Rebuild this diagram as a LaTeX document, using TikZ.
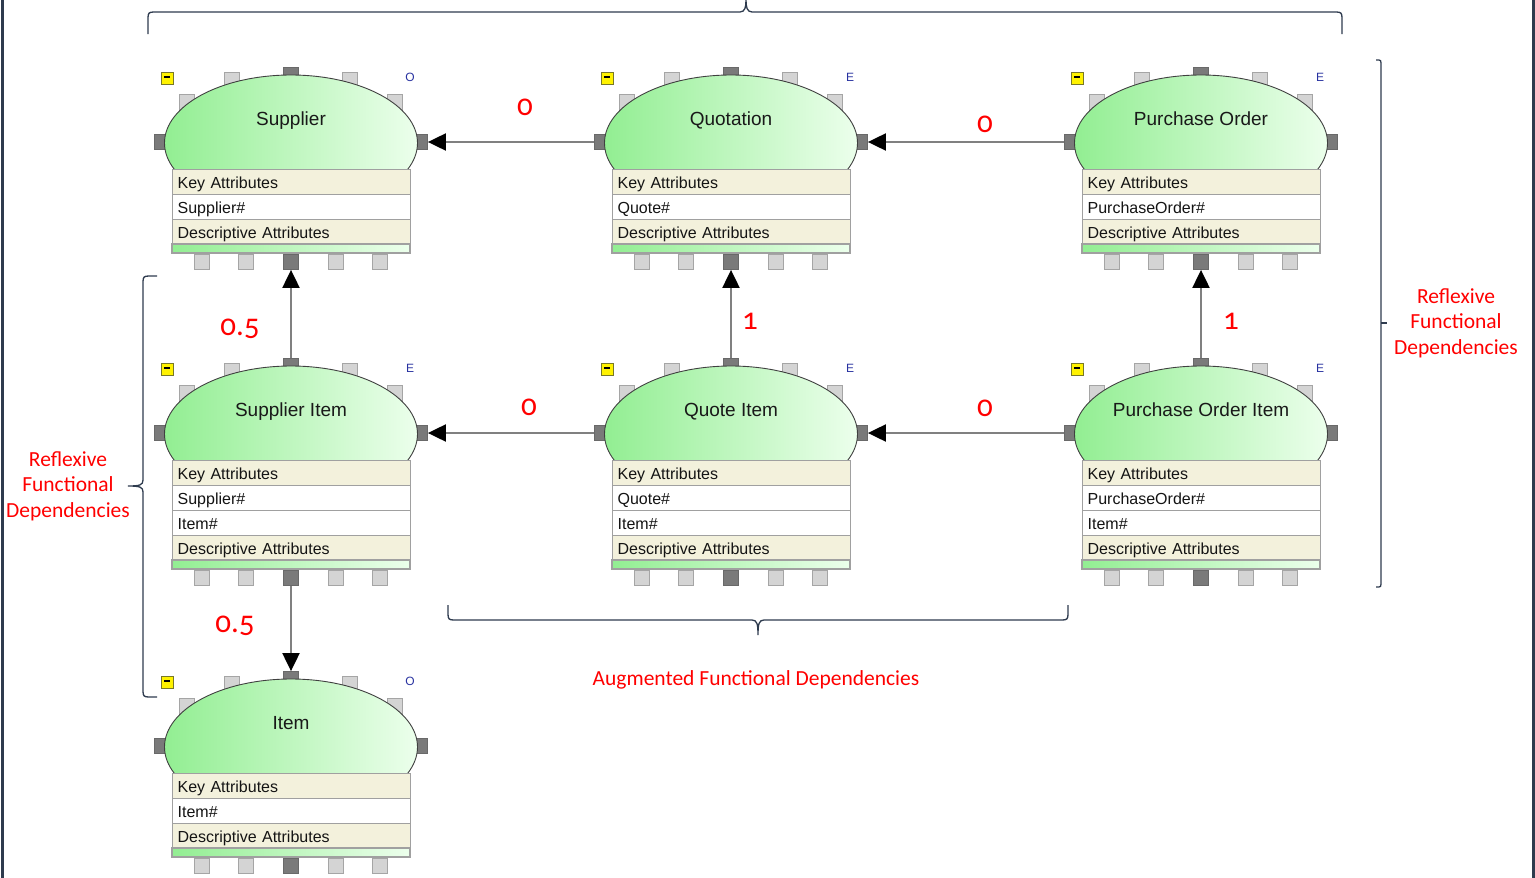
\documentclass[tikz,border=0pt]{standalone}
\usepackage{fontspec}
\setmainfont{Liberation Sans}
\newfontfamily\calib{Carlito}
\newfontfamily\calibos[Numbers=OldStyle]{Carlito}
\usetikzlibrary{arrows.meta}
\definecolor{portfill}{RGB}{212,212,212}
\definecolor{portbord}{RGB}{165,165,165}
\definecolor{portdark}{RGB}{122,122,122}
\definecolor{portdarkb}{RGB}{105,105,105}
\definecolor{domeA}{RGB}{146,238,146}
\definecolor{domeB}{RGB}{236,255,236}
\definecolor{beige}{RGB}{243,241,220}
\definecolor{rowline}{RGB}{160,160,160}
\definecolor{connc}{RGB}{128,128,128}
\definecolor{brkc}{RGB}{46,59,78}
\definecolor{letc}{RGB}{40,50,160}
\definecolor{iconb}{RGB}{120,120,40}
\definecolor{annred}{RGB}{255,0,0}
\tikzset{
  lport/.style={draw=portbord, fill=portfill, minimum width=15pt, minimum height=15pt, inner sep=0pt, line width=0.8pt},
  dport/.style={lport, draw=portdarkb, fill=portdark},
  dome/.style={draw=black!75, line width=0.9pt, left color=domeA, right color=domeB},
  titletxt/.style={font=\fontsize{19}{22}\selectfont, text=black!90, anchor=base, inner sep=0pt},
  rowbase/.style={draw=rowline, line width=1.3pt, anchor=north west, minimum width=238pt, minimum height=25pt, text width=228pt, align=left, inner xsep=5pt, inner ysep=0pt, text height=12pt, text depth=0pt, font=\fontsize{16}{18}\selectfont, text=black!92},
  keyrow/.style={rowbase, fill=beige},
  valrow/.style={rowbase, fill=white},
  greenbar/.style={draw=rowline, line width=1.3pt, left color=domeA, right color=domeB},
  letr/.style={font=\fontsize{12}{14}\selectfont, text=letc, inner sep=0pt},
  yicon/.style={draw=iconb, fill=yellow, line width=0.9pt, minimum width=12pt, minimum height=12pt, inner sep=0pt},
  conn/.style={draw=connc, line width=2pt, -{Triangle[length=18pt,width=17pt,color=black]}},
  brk/.style={draw=brkc, line width=1.3pt},
  num/.style={font=\calibos\fontsize{31}{34}\selectfont, text=annred, anchor=base, inner sep=0pt},
  ann/.style={font=\calib\fontsize{21.5}{25.5}\selectfont, text=annred, align=center, inner sep=0pt}
}
% #1 id, #2 cx, #3 title y, #4 title, #5 letter, #6 value rows, #7 count
\newcommand{\ERent}[7]{%
  \pgfmathsetmacro{\ERbt}{#3+51+25*(#7+2)}%
  \node[lport] (#1-tl) at ({#2-59},{#3-38}) {};
  \node[lport] (#1-tr) at ({#2+59},{#3-38}) {};
  \node[lport] (#1-sl) at ({#2-104},{#3-16}) {};
  \node[lport] (#1-sr) at ({#2+104},{#3-16}) {};
  \node[dport] (#1-t) at (#2,{#3-43}) {};
  \node[dport] (#1-l) at ({#2-129},{#3+24}) {};
  \node[dport] (#1-r) at ({#2+129},{#3+24}) {};
  \path[dome] (#2,{#3+25}) ellipse [x radius=126.5pt, y radius=68pt];
  \node[titletxt] (#1-name) at (#2,{#3+7}) {#4};
  \node[yicon] (#1-ic) at ({#2-124},{#3-40}) {\rule[2pt]{6pt}{1.3pt}};
  \node[letr] (#1-let) at ({#2+119},{#3-41}) {#5};
  \node[keyrow] (#1-key) at ({#2-119},{#3+51}) {Key Attributes};
  \foreach \v [count=\i] in {#6} {
    \node[valrow] (#1-v\i) at ({#2-119},{#3+51+25*\i}) {\v};
  }
  \node[keyrow] (#1-desc) at ({#2-119},{#3+51+25*(#7+1)}) {Descriptive Attributes};
  \path[greenbar] ({#2-119},\ERbt) rectangle ({#2+119},{\ERbt+9});
  \node[lport] (#1-b1) at ({#2-89},{\ERbt+18}) {};
  \node[lport] (#1-b2) at ({#2-45},{\ERbt+18}) {};
  \node[dport] (#1-b) at (#2,{\ERbt+18}) {};
  \node[lport] (#1-b4) at ({#2+45},{\ERbt+18}) {};
  \node[lport] (#1-b5) at ({#2+89},{\ERbt+18}) {};
}
\begin{document}
\begin{tikzpicture}[x=1pt,y=-1pt]
\useasboundingbox (0,0) rectangle (1535,878);
% window frame
\draw[brkc, line width=3pt] (2,0) -- (2,878);
\draw[brkc, line width=3pt] (1533,0) -- (1533,878);

\ERent{sup}{291}{118}{Supplier}{O}{Supplier\#}{1}
\ERent{quo}{731}{118}{Quotation}{E}{Quote\#}{1}
\ERent{po}{1201}{118}{Purchase Order}{E}{PurchaseOrder\#}{1}
\ERent{sui}{291}{409}{Supplier Item}{E}{Supplier\#,Item\#}{2}
\ERent{qui}{731}{409}{Quote Item}{E}{Quote\#,Item\#}{2}
\ERent{poi}{1201}{409}{Purchase Order Item}{E}{PurchaseOrder\#,Item\#}{2}
\ERent{itm}{291}{722}{Item}{O}{Item\#}{1}

% connectors
\draw[conn] (quo-l.west) -- (sup-r.east);
\draw[conn] (po-l.west) -- (quo-r.east);
\draw[conn] (qui-l.west) -- (sui-r.east);
\draw[conn] (poi-l.west) -- (qui-r.east);
\draw[conn] (sui-t.north) -- (sup-b.south);
\draw[conn] (qui-t.north) -- (quo-b.south);
\draw[conn] (poi-t.north) -- (po-b.south);
\draw[conn] (sui-b.south) -- (itm-t.north);

% numbers
\node[num] (n1) at (525,115) {0};
\node[num] (n2) at (985,132) {0};
\node[num] (n3) at (529,415) {0};
\node[num] (n4) at (985,416) {0};
\node[num] (n5) at (240,335) {0.5};
\node[num] (n6) at (235,632) {0.5};
\node[num] (n7) at (750,329) {1};
\node[num] (n8) at (1231,329) {1};

% brackets
\draw[brk] (148,34) -- (148,18) .. controls (148,13) and (149,12) .. (154,12) -- (740,12)
  .. controls (745,12) and (746,7) .. (746,0) .. controls (746,7) and (747,12) .. (752,12)
  -- (1336,12) .. controls (1341,12) and (1342,13) .. (1342,18) -- (1342,34);
\draw[brk] (448,605) -- (448,614) .. controls (448,619) and (449,620) .. (454,620) -- (752,620)
  .. controls (757,620) and (758,624) .. (758,635) .. controls (758,624) and (759,620) .. (764,620)
  -- (1062,620) .. controls (1067,620) and (1068,619) .. (1068,614) -- (1068,605);
\draw[brk] (157,276) -- (149,276) .. controls (144,276) and (143,277) .. (143,282) -- (143,480)
  .. controls (143,485) and (140,486) .. (128,486) .. controls (140,486) and (143,487) .. (143,492)
  -- (143,691) .. controls (143,696) and (144,697) .. (149,697) -- (157,697);
\draw[brk] (1376,60) -- (1379,60) .. controls (1380.5,60) and (1381,61) .. (1381,63) -- (1381,584)
  .. controls (1381,586) and (1380.5,587) .. (1379,587) -- (1376,587);
\draw[brk] (1381,323) -- (1387,323);

% annotations
\node[ann] (a1) at (68,486) {Reflexive\\Functional\\Dependencies};
\node[ann] (a2) at (1456,323) {Reflexive\\Functional\\Dependencies};
\node[ann] (a3) at (756,680) {Augmented Functional Dependencies};
\end{tikzpicture}
\end{document}
